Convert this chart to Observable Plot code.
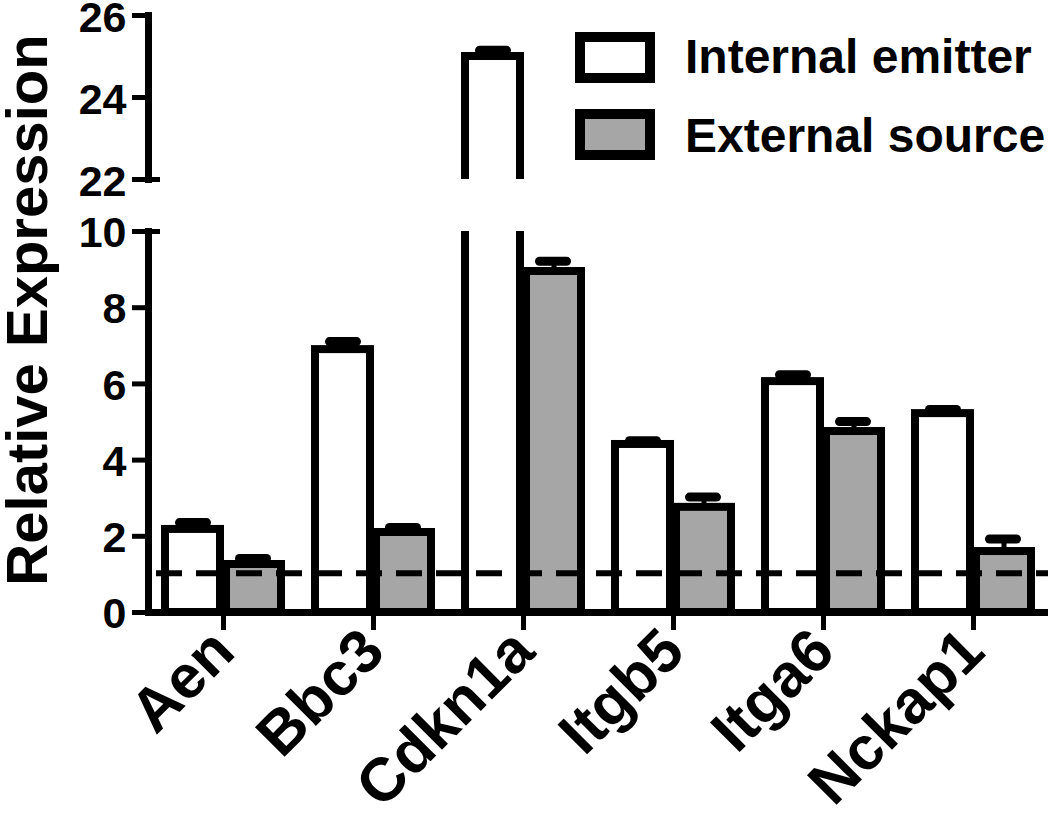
<!DOCTYPE html>
<html>
<head>
<meta charset="utf-8">
<script src="https://cdn.jsdelivr.net/npm/d3@7"></script>
<script src="https://cdn.jsdelivr.net/npm/@observablehq/plot@0.6"></script>
<style>
html, body { margin: 0; padding: 0; background: #fff; }
#chart { position: relative; width: 1050px; height: 819px; overflow: hidden; background: #fff; }
#chart > svg { position: absolute; left: 0; top: 0; }
</style>
</head>
<body>
<div id="chart"></div>
<script>
// ---- data ----
const genes = ["Aen", "Bbc3", "Cdkn1a", "Itgb5", "Itga6", "Nckap1"];
const internalMean = [2.18, 6.9, 25.0, 4.41, 6.06, 5.22];
const internalErr  = [0.18, 0.21, 0.15, 0.1, 0.18, 0.11];
const externalMean = [1.26, 2.1, 8.95, 2.76, 4.75, 1.6];
const externalErr  = [0.16, 0.13, 0.27, 0.27, 0.26, 0.33];
const seriesNames = ["Internal emitter", "External source"];
const seriesFills = ["#ffffff", "#a6a6a6"];
const lowerTicks = [0, 2, 4, 6, 8, 10];
const upperTicks = [22, 24, 26];
const lowerDomain = [0, 10];
const upperDomain = [22, 26];
const referenceLevel = [1.03];
const yTitle = "Relative Expression";

// ---- derived table ----
const rows = genes.map((g, i) => ({
  gene: g,
  internal: internalMean[i],
  internalTop: internalMean[i] + internalErr[i],
  external: externalMean[i],
  externalTop: externalMean[i] + externalErr[i]
}));

const font = "'Liberation Sans', Arial, Helvetica, sans-serif";
const W = 1050, H = 819;
const baseStyle = {fontFamily: font, fontWeight: "bold", background: "transparent", overflow: "visible", color: "black"};
const xOpts = {domain: genes, paddingInner: 0.227, paddingOuter: 0.1135};
const intFmt = (d) => String(d);

function barMarks() {
  return [
    Plot.barY(rows, {x: "gene", y: "internal", fill: seriesFills[0], stroke: "black", strokeWidth: 8, insetRight: 61, clip: true}),
    Plot.barY(rows, {x: "gene", y: "external", fill: seriesFills[1], stroke: "black", strokeWidth: 8, insetLeft: 61, clip: true}),
    Plot.ruleX(rows, {x: "gene", y1: "internal", y2: "internalTop", dx: -30.5, strokeWidth: 5, clip: true}),
    Plot.ruleX(rows, {x: "gene", y1: "external", y2: "externalTop", dx: 30.5, strokeWidth: 5, clip: true}),
    Plot.tickY(rows, {x: "gene", y: "internalTop", insetLeft: 14.5, insetRight: 74.5, strokeWidth: 9, strokeLinecap: "round", clip: true}),
    Plot.tickY(rows, {x: "gene", y: "externalTop", insetLeft: 74.5, insetRight: 14.5, strokeWidth: 9, strokeLinecap: "round", clip: true})
  ];
}

const lower = Plot.plot({
  width: W, height: H,
  marginLeft: 148, marginRight: 2, marginTop: 231, marginBottom: 207,
  x: xOpts,
  y: {domain: lowerDomain},
  style: baseStyle,
  marks: [
    ...barMarks(),
    Plot.ruleY(referenceLevel, {strokeWidth: 6, strokeDasharray: "26,14", insetLeft: 8}),
    Plot.frame({anchor: "left", strokeWidth: 7}),
    Plot.ruleY([lowerDomain[0]], {strokeWidth: 7}),
    Plot.axisY({ticks: lowerTicks, tickSize: 16, strokeWidth: 5, fill: "none", label: null}),
    Plot.axisY({ticks: lowerTicks, tickSize: 16, tickPadding: 6, stroke: "none", dy: 2, fontSize: 43, fontWeight: "bold", tickFormat: intFmt, label: null}),
    Plot.axisY({ticks: [lowerDomain[1]], tickSize: 28, dx: 12, strokeWidth: 5, fill: "none", label: null}),
    Plot.axisX({tickSize: 18, strokeWidth: 5, tickRotate: -45, tickPadding: 10, fontSize: 61, fontWeight: "bold", label: null})
  ]
});

const upper = Plot.plot({
  width: W, height: 200,
  marginLeft: 148, marginRight: 2, marginTop: 15, marginBottom: 21,
  x: {...xOpts, axis: null},
  y: {domain: upperDomain},
  style: baseStyle,
  marks: [
    ...barMarks(),
    Plot.frame({anchor: "left", strokeWidth: 7}),
    Plot.axisY({ticks: upperTicks, tickSize: 16, strokeWidth: 5, fill: "none", label: null}),
    Plot.axisY({ticks: upperTicks, tickSize: 16, tickPadding: 6, stroke: "none", dy: 3, fontSize: 43, fontWeight: "bold", tickFormat: intFmt, label: null}),
    Plot.axisY({ticks: [upperDomain[0]], tickSize: 28, dx: 12, strokeWidth: 5, fill: "none", label: null})
  ]
});

// overlay: y title and legend
const overlay = d3.create("svg")
  .attr("width", W).attr("height", H)
  .style("font-family", font).style("font-weight", "bold");
overlay.append("text")
  .attr("transform", "translate(47,310) rotate(-90)")
  .attr("text-anchor", "middle")
  .attr("font-size", 58)
  .attr("fill", "black")
  .text(yTitle);
const lg = overlay.append("g");
seriesNames.forEach((name, i) => {
  const top = i === 0 ? 37 : 114;
  lg.append("rect").attr("x", 580).attr("y", top).attr("width", 70).attr("height", 41)
    .attr("fill", seriesFills[i]).attr("stroke", "black").attr("stroke-width", 10);
  lg.append("text").attr("x", 685).attr("y", i === 0 ? 73 : 152)
    .attr("font-size", 48).attr("fill", "black").text(name);
});

const chart = document.getElementById("chart");
chart.appendChild(lower);
chart.appendChild(upper);
chart.appendChild(overlay.node());
</script>
</body>
</html>
